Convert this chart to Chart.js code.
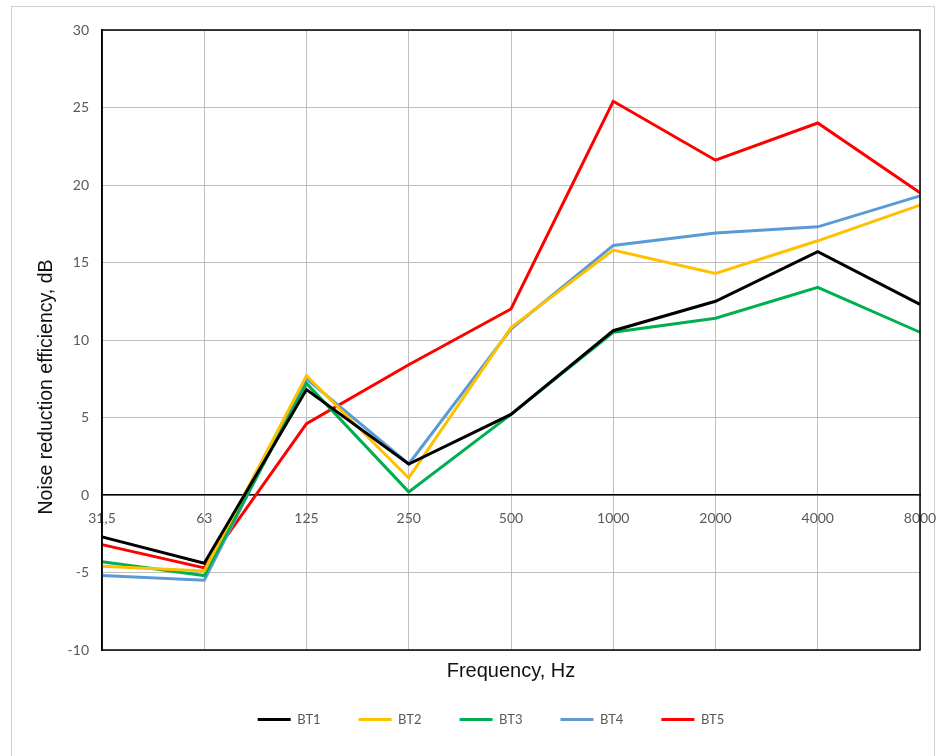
<!DOCTYPE html>
<html>
<head>
<meta charset="utf-8">
<script src="https://cdn.jsdelivr.net/npm/chart.js@4"></script>
<style>
  body { margin: 0; background: #fff; }
  #wrap { position: relative; width: 938px; height: 756px; }
  #frame { position: absolute; left: 11px; top: 6px; width: 924px; height: 770px; border: 1px solid #d0d0d0; box-sizing: border-box; }
  #noiseChart { position: absolute; left: 0; top: 0; }
</style>
</head>
<body>
<div id="wrap">
  <div id="frame"></div>
  <canvas id="noiseChart" width="938" height="756"></canvas>
</div>
<script>
const frequencies = ["31,5", "63", "125", "250", "500", "1000", "2000", "4000", "8000"];
const bt1 = [-2.7, -4.4, 6.8, 2.0, 5.2, 10.6, 12.5, 15.7, 12.3];
const bt2 = [-4.6, -4.9, 7.7, 1.1, 10.8, 15.8, 14.3, 16.4, 18.7];
const bt3 = [-4.3, -5.2, 7.2, 0.2, 5.2, 10.5, 11.4, 13.4, 10.5];
const bt4 = [-5.2, -5.5, 7.5, 2.0, 10.7, 16.1, 16.9, 17.3, 19.3];
const bt5 = [-3.2, -4.7, 4.6, 8.4, 12.0, 25.4, 21.6, 24.0, 19.5];
const yTicks = { min: -10, max: 30, step: 5 };
const yTitle = "Noise reduction efficiency, dB";

document.addEventListener("DOMContentLoaded", function () {

  // black frame round the plot area + the y axis title (sits below centre)
  const plotFrame = {
    id: "plotFrame",
    afterDraw(chart) {
      const a = chart.chartArea;
      const c = chart.ctx;
      c.save();
      c.strokeStyle = "#000";
      c.lineWidth = 1.5;
      c.strokeRect(a.left, a.top, a.right - a.left, a.bottom - a.top);

      c.translate(47, (a.top + a.bottom) / 2 + 47);
      c.rotate(-Math.PI / 2);
      c.fillStyle = "#111";
      c.font = "19.5px 'Liberation Sans'";
      c.textAlign = "center";
      c.textBaseline = "middle";
      c.fillText(yTitle, 0, 0);
      c.restore();
    }
  };

  // legend sits a little right of the canvas centre
  const legendShift = {
    id: "legendShift",
    afterLayout(chart) {
      chart.legend.left += 31;
      chart.legend.right += 31;
    }
  };

  function series(label, values, color) {
    return {
      label: label,
      data: values,
      borderColor: color,
      backgroundColor: color,
      borderWidth: 3,
      pointRadius: 0,
      tension: 0,
      fill: false
    };
  }

  const ctx = document.getElementById("noiseChart");
  new Chart(ctx, {
    type: "line",
    data: {
      labels: frequencies,
      datasets: [
        series("BT1", bt1, "#000000"),
        series("BT2", bt2, "#FFC000"),
        series("BT3", bt3, "#00B050"),
        series("BT4", bt4, "#5B9BD5"),
        series("BT5", bt5, "#FF0000")
      ]
    },
    options: {
      responsive: false,
      animation: false,
      layout: { padding: { top: 30, right: 18, bottom: 20, left: 0 } },
      scales: {
        x: {
          position: { y: 0 },
          afterFit: function (scale) {
            scale.paddingLeft = 0;
            scale.paddingRight = 0;
          },
          grid: { color: "#bfbfbf", lineWidth: 1, drawTicks: false },
          border: { color: "#000", width: 1.5 },
          ticks: {
            autoSkip: false,
            maxRotation: 0,
            padding: 15,
            color: "#595959",
            font: { family: "Lato", size: 14 }
          }
        },
        y: {
          min: yTicks.min,
          max: yTicks.max,
          afterFit: function (scale) { scale.width = 102; },
          grid: { color: "#bfbfbf", lineWidth: 1, drawTicks: false },
          border: { color: "#000", width: 1.5 },
          ticks: {
            stepSize: yTicks.step,
            padding: 13,
            color: "#595959",
            font: { family: "Lato", size: 14 }
          }
        }
      },
      plugins: {
        title: {
          display: true,
          position: "bottom",
          fullSize: false,
          weight: 500,
          text: "Frequency, Hz",
          color: "#111",
          padding: { top: 9, bottom: -8 },
          font: { family: "Liberation Sans", size: 20, weight: "normal" }
        },
        legend: {
          position: "bottom",
          labels: {
            usePointStyle: true,
            pointStyle: "line",
            pointStyleWidth: 33,
            padding: 38,
            color: "#595959",
            font: { family: "Lato", size: 13 }
          }
        },
        tooltip: { enabled: false }
      }
    },
    plugins: [plotFrame, legendShift]
  });
});
</script>
</body>
</html>
